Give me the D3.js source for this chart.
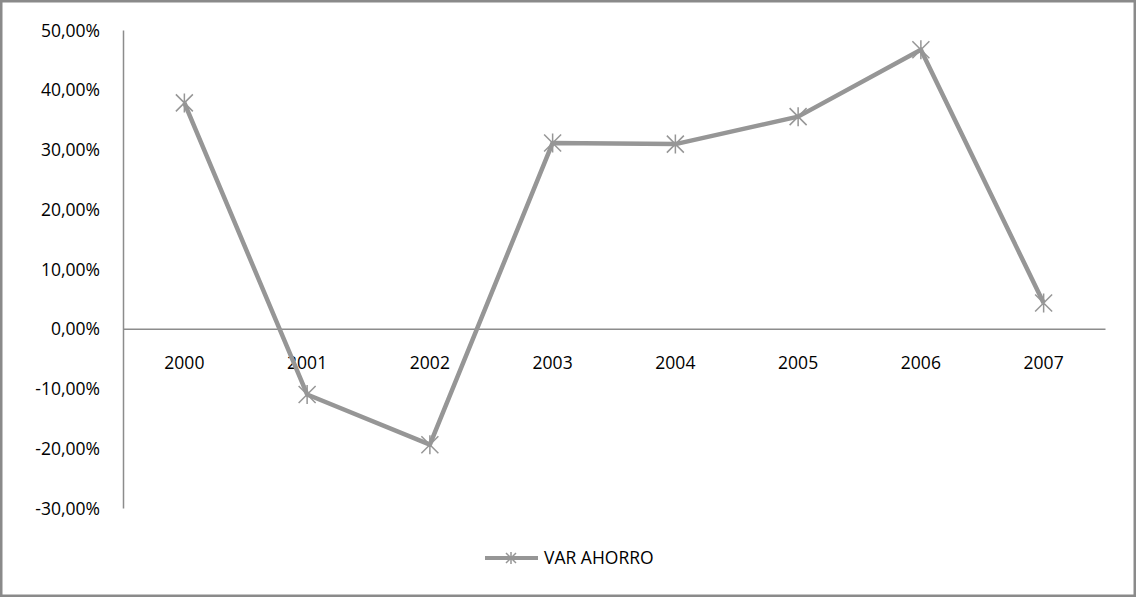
<!DOCTYPE html>
<html>
<head>
<meta charset="utf-8">
<script src="https://cdn.jsdelivr.net/npm/d3@7"></script>
<style>
  body { margin: 0; background: #fff; }
  text { font-family: "Open Sans", "Liberation Sans", sans-serif; fill: #000; }
</style>
</head>
<body>
<div id="chart"></div>
<script>
// Chart data
var years = ["2000", "2001", "2002", "2003", "2004", "2005", "2006", "2007"];
var varAhorro = [37.8, -11.0, -19.4, 31.1, 30.9, 35.5, 46.7, 4.3];
var yTicks = [-30, -20, -10, 0, 10, 20, 30, 40, 50];
var seriesName = "VAR AHORRO";

var svgWidth = 1136;
var svgHeight = 597;
var lineColor = "#969696";

var svg = d3.select("#chart")
  .append("svg")
  .attr("width", svgWidth)
  .attr("height", svgHeight);

// Outer border
svg.append("rect")
  .attr("x", 1.25)
  .attr("y", 1.25)
  .attr("width", svgWidth - 2.5)
  .attr("height", svgHeight - 2.5)
  .attr("fill", "#fff")
  .attr("stroke", "#8a8a8a")
  .attr("stroke-width", 2.5);

// Scales
var xScale = d3.scaleBand()
  .domain(years)
  .range([123, 1105]);

var yScale = d3.scaleLinear()
  .domain([-30, 50])
  .range([508, 30]);

var fmt = function(d) { return d.toFixed(2).replace(".", ",") + "%"; };

// Y axis
var leftAxis = d3.axisLeft(yScale)
  .tickValues(yTicks)
  .tickSize(0)
  .tickPadding(23)
  .tickFormat(fmt);

var yAxis = svg.append("g")
  .attr("transform", "translate(123, 0)")
  .call(leftAxis);
yAxis.select(".domain").attr("stroke", "#8c8c8c").attr("stroke-width", 1.5);
yAxis.selectAll("text").style("font-size", "17.5px").attr("dy", "0.35em");

// X axis on the zero line
var bottomAxis = d3.axisBottom(xScale).tickSize(0).tickPadding(28);
var xAxis = svg.append("g")
  .attr("transform", `translate(0, ${yScale(0)})`)
  .call(bottomAxis);
xAxis.select(".domain").attr("stroke", "#8c8c8c").attr("stroke-width", 1.5);
xAxis.selectAll("text").style("font-size", "17.5px");

// Line
var cx = d => xScale(d) + xScale.bandwidth() / 2;
var line = d3.line()
  .x((d, i) => cx(years[i]))
  .y(d => yScale(d));

svg.append("path")
  .datum(varAhorro)
  .attr("d", line)
  .attr("fill", "none")
  .attr("stroke", lineColor)
  .attr("stroke-width", 4.5)
  .attr("stroke-linejoin", "round");

// Star markers
function star(g, x, y, r) {
  g.append("path")
    .attr("d", `M${x - r},${y - r}L${x + r},${y + r}M${x - r},${y + r}L${x + r},${y - r}M${x},${y - r - 1}L${x},${y + r + 1}`)
    .attr("stroke", lineColor)
    .attr("stroke-width", 1.5)
    .attr("fill", "none");
}

var markers = svg.append("g");
varAhorro.forEach(function(v, i) {
  star(markers, cx(years[i]), yScale(v), 8.5);
});

// Legend
var legend = svg.append("g");
legend.append("line")
  .attr("x1", 485).attr("x2", 538)
  .attr("y1", 558).attr("y2", 558)
  .attr("stroke", lineColor)
  .attr("stroke-width", 4);
star(legend, 511, 558, 5);
legend.append("text")
  .attr("x", 544)
  .attr("y", 558)
  .attr("dy", "0.35em")
  .style("font-size", "17.5px")
  .text(seriesName);
</script>
</body>
</html>
